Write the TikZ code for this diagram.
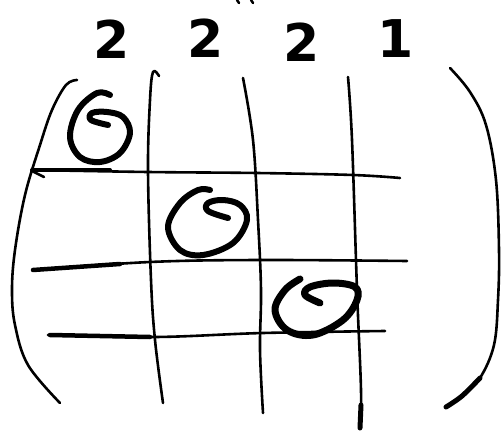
\documentclass[tikz,border=0pt]{standalone}
\usepackage{fontspec}
\setmainfont{DejaVu Sans}
\begin{document}
\begin{tikzpicture}[x=1pt,y=-1pt,
  ink/.style={line width=2.6pt,line cap=round,line join=round},
  thick ink/.style={line width=6pt,line cap=round,line join=round},
  digit/.style={inner sep=0pt,font=\fontsize{52}{52}\selectfont\bfseries}]
\useasboundingbox (0,0) rectangle (501,431);
% tiny marks at top
\draw[line width=2.5pt,line cap=round] (237,0) -- (239,3);
\draw[line width=2.5pt,line cap=round] (251,0) -- (253,3);
% column headings
\node[digit] (d1) at (112,39) {2};
\node[digit] (d2) at (206,38) {2};
\node[digit] (d3) at (302,42) {2};
\node[digit] (d4) at (396,39) {1};
% left parenthesis
\draw[ink] plot[smooth,tension=0.6] coordinates {(77,80) (66,85) (52,110) (40,145) (25,195) (15,250) (12,290) (15,325) (28,365) (60,403)};
% right parenthesis
\draw[ink] plot[smooth,tension=0.6] coordinates {(450,68) (470,92) (486,125) (496,180) (499,250) (498,300) (494,345) (480,378) (462,396)};
\draw[line width=5pt,line cap=round] plot[smooth,tension=0.6] coordinates {(480,378) (462,396) (446,407)};
% vertical grid lines
\draw[ink] plot[smooth,tension=0.6] coordinates {(159,76) (153,72) (150,100) (148,170) (151,280) (155,340) (163,403)};
\draw[ink] plot[smooth,tension=0.6] coordinates {(243,78) (253,140) (258,220) (261,290) (260,350) (263,413)};
\draw[ink] plot[smooth,tension=0.6] coordinates {(348,77) (352,140) (357,290) (361,390) (360,428)};
\draw[line width=5pt,line cap=round] (361,405) -- (360,428);
% horizontal grid lines
\draw[ink] plot[smooth,tension=0.6] coordinates {(32,170) (148,172) (257,173) (353,175) (400,178)};
\draw[line width=4pt,line cap=round] (32,170) -- (110,170);
\draw[ink] (32,171) -- (44,177);
\draw[ink] plot[smooth,tension=0.6] coordinates {(33,270) (150,262) (260,260) (407,261)};
\draw[line width=4.5pt,line cap=round] (33,270) -- (120,264);
\draw[ink] plot[smooth,tension=0.6] coordinates {(48,335) (155,337) (263,333) (385,331)};
\draw[line width=4.5pt,line cap=round] (50,335) -- (150,337);
% zeros on the diagonal
\draw[thick ink] plot[smooth,tension=0.6] coordinates {(110,95) (97,93) (78,110) (70,137) (80,157) (100,162) (120,153) (130,133) (123,117) (107,112) (92,113) (91,120) (108,125)};
\draw[thick ink] plot[smooth,tension=0.6] coordinates {(210,190) (198,190) (180,203) (168,227) (180,250) (203,255) (233,243) (247,220) (240,205) (223,200) (208,203) (208,211) (228,218)};
\draw[line width=7pt,line cap=round,line join=round] plot[smooth,tension=0.6] coordinates {(300,279) (285,290) (275,310) (287,330) (313,335) (343,320) (357,300) (355,287) (333,283) (310,287) (305,295) (320,303)};
\end{tikzpicture}
\end{document}
